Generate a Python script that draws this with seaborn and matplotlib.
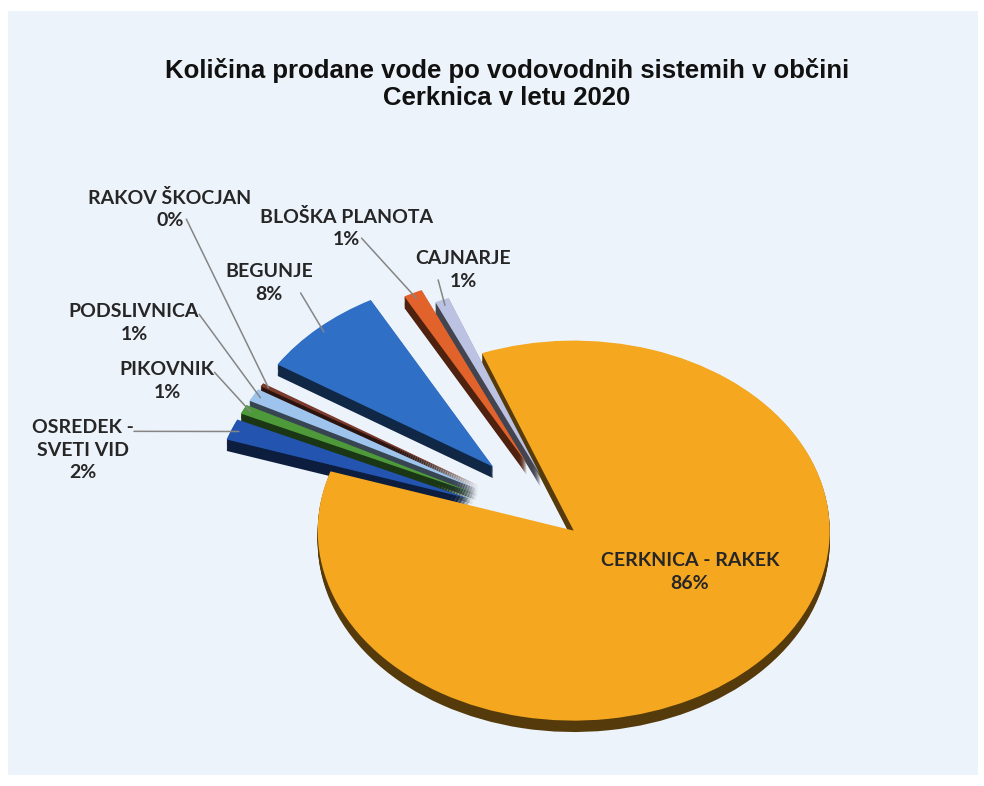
import seaborn as sns
import matplotlib.pyplot as plt
import numpy as np
from matplotlib.colors import to_rgb
from matplotlib.patches import Rectangle

sns.set_theme(style="white")
plt.rcParams['font.family'] = ['Lato', 'DejaVu Sans']

# data, clockwise from the top of the pie
names = ["CERKNICA - RAKEK", "OSREDEK -\nSVETI VID", "PIKOVNIK", "PODSLIVNICA",
         "RAKOV ŠKOCJAN", "BEGUNJE", "BLOŠKA PLANOTA", "CAJNARJE"]
values = [85.8, 1.8, 0.8, 1.1, 0.3, 8.0, 1.2, 0.9]
colors = ["#F4A71F", "#2354B0", "#4E9A3A", "#9EC4EE",
          "#7A3A2C", "#2F6FC6", "#E2622B", "#BCC2E2"]
explode = [0.02, 0.42, 0.42, 0.42, 0.42, 0.44, 0.38, 0.3]

# label centres (pixels from top-left) and where the leader leaves the text
label_pos = [(690, 572), (83, 450), (167, 381), (134, 323),
             (170, 209), (269, 283), (346, 228), (463, 270)]
leader_rel = [None, (1.0, 0.8), (1.0, 0.72), (1.0, 0.72),
              (0.6, 0.25), (0.86, 0.25), (0.59, 0.25), (0.24, 0.25)]

W, H = 984, 786
fig = plt.figure(figsize=(W / 100, H / 100), dpi=100)
fig.patch.set_facecolor("white")
fig.patches.append(Rectangle((8 / W, 11 / H), 970 / W, 764 / H, transform=fig.transFigure,
                             facecolor="#EDF3FA", edgecolor="none", zorder=-10))
ax = fig.add_axes([0, 0, 1, 1])
ax.set_facecolor("none")
ax.set_zorder(5)

total = sum(values)
start = 111
dark = [tuple(c * 0.35 for c in to_rgb(col)) for col in colors]

# fake 3D depth: stacked darker copies below the top face
for k in np.linspace(0.06, 0.004, 10):
    ax.pie(values, explode=explode, colors=dark, startangle=start, counterclock=False,
           center=(0, -k), wedgeprops=dict(linewidth=0))
wedges, _ = ax.pie(values, explode=explode, colors=colors, startangle=start,
                   counterclock=False, wedgeprops=dict(linewidth=0))

rx, ry = 256, 190
cx, cy = 570, 528
ax.set_aspect("auto")
ax.set_xlim(-cx / rx, (W - cx) / rx)
ax.set_ylim(-(H - cy) / ry, cy / ry)
ax.axis("off")

for w, name, v, pos, rel in zip(wedges, names, values, label_pos, leader_rel):
    txt = f"{name}\n{round(v / total * 100):.0f}%"
    xt, yt = pos[0], H - pos[1]
    if rel is None:
        ax.annotate(txt, xy=(0, 0), xytext=(xt, yt), textcoords="figure pixels",
                    ha="center", va="center", fontsize=14, fontweight="bold",
                    color="#262626", linespacing=1.4)
        continue
    mid = np.deg2rad((w.theta1 + w.theta2) / 2)
    ax_pt = (w.center[0] + 0.97 * np.cos(mid), w.center[1] + 0.97 * np.sin(mid))
    ax.annotate(txt, xy=ax_pt, xytext=(xt, yt), textcoords="figure pixels",
                ha="center", va="center", fontsize=14, fontweight="bold",
                color="#262626", linespacing=1.4,
                arrowprops=dict(arrowstyle="-", color="#858585", lw=1.1, relpos=rel,
                                shrinkA=0, shrinkB=0, patchA=None))

fig.text(0.515, 1 - 84 / H,
         "Količina prodane vode po vodovodnih sistemih v občini\nCerknica v letu 2020",
         ha="center", va="center", fontsize=18.5, fontweight="bold",
         family=["Liberation Sans", "DejaVu Sans"], color="#111111", linespacing=1.2)

fig.savefig("out.png", dpi=100, facecolor=fig.get_facecolor())
